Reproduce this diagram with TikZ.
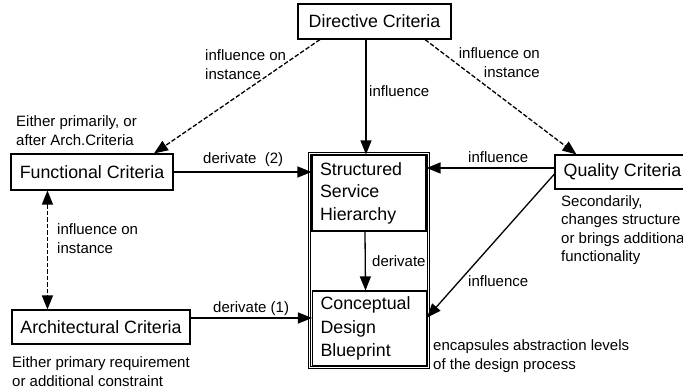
\documentclass[tikz,border=0pt]{standalone}
\usepackage{fontspec}
\setmainfont{Liberation Sans}
\usetikzlibrary{arrows.meta}
\begin{document}
\begin{tikzpicture}[x=1pt,y=-1pt,
  crit/.style={draw, line width=1.1pt, inner sep=0pt,
    font=\fontsize{17.8}{22.5}\selectfont},
  level/.style={draw, line width=1.1pt, inner xsep=8pt, inner ysep=0pt,
    align=left, minimum width=114pt},
  lab/.style={inner sep=0pt, align=left, font=\fontsize{15}{18.6}\selectfont},
  tip/.tip={Triangle[length=14pt,width=11pt]},
  conn/.style={line width=1.3pt, -tip},
  dashconn/.style={conn, dash pattern=on 4.5pt off 2pt},
]
\useasboundingbox (0,0) rectangle (683,390);

% criteria boxes
\node[crit, minimum width=153pt, minimum height=35pt] (dir) at (374.5,21.5) {Directive Criteria};
\node[crit, minimum width=162pt, minimum height=36pt] (fun) at (92,172) {Functional Criteria};
\node[crit, minimum width=178pt, minimum height=34pt] (arc) at (101,327) {Architectural Criteria};
\node[crit, minimum width=135pt, minimum height=34pt] (qua) at (622.5,172) {Quality Criteria};

% abstraction levels inside a double frame
\node[draw, double, line width=0.8pt, double distance=1.2pt, inner sep=0pt,
      minimum width=119pt, minimum height=214.5pt] (frame) at (369,260.5) {};
\node[level, text width=98pt, minimum height=76pt, font=\fontsize{17.8}{22.5}\selectfont]
  (ssh) at (369,193) {Structured\\Service\\Hierarchy};
\node[level, text width=98pt, minimum height=75pt, font=\fontsize{17.8}{23.5}\selectfont]
  (cdb) at (369.5,328.5) {Conceptual\\Design\\Blueprint};

% connectors
\draw[conn] ([xshift=-8.5pt]dir.south) -- ([xshift=-8.5pt]dir.south |- ssh.north);
\draw[dashconn] ([xshift=-54.5pt]dir.south) -- ([xshift=62pt]fun.north);
\draw[dashconn] ([xshift=50.5pt]dir.south) -- ([xshift=22pt]qua.north west);
\draw[conn] (fun.east) -- (fun.east -| ssh.west);
\draw[conn] ([yshift=4pt]qua.west) -- ([yshift=4pt]qua.west -| ssh.east);
\draw[conn] ([yshift=-2pt]qua.west) -- ([yshift=11pt]cdb.east);
\draw[conn] ([xshift=-4pt]ssh.south) -- ([xshift=-4pt]cdb.north);
\draw[conn] ([yshift=9pt]arc.east) -- ([yshift=9pt]arc.east -| cdb.west);
\draw[dashconn, tip-tip]
  ([xshift=37pt]fun.south west) -- ([xshift=37pt]fun.south west |- arc.north);

% connector labels
\node[lab, anchor=north west] (l1) at (205,49.5) {influence on\\instance};
\node[lab, anchor=north east, align=right] (l2) at (540,47.5) {influence on\\instance};
\node[lab, anchor=west] (l3) at (369,91) {influence};
\node[lab, anchor=west] (l4) at (203,160) {derivate\ \ (2)};
\node[lab, anchor=west] (l5) at (468,157) {influence};
\node[lab, anchor=west] (l6) at (372,261) {derivate};
\node[lab, anchor=west] (l7) at (468,281) {influence};
\node[lab, anchor=north west] (l8) at (57,223.5) {influence on\\instance};
\node[lab, anchor=west] (l9) at (213,309) {derivate (1)};

% annotations
\node[lab, anchor=north west] (n1) at (16,115.5) {Either primarily, or\\after Arch.Criteria};
\node[lab, anchor=north west] (n2) at (12,356.5) {Either primary requirement\\or additional constraint};
\node[lab, anchor=north west] (n3) at (561,195) {Secondarily,\\changes structure\\or brings additional\\functionality};
\node[lab, anchor=north west] (n4) at (433,339.5) {encapsules abstraction levels\\of the design process};
\end{tikzpicture}
\end{document}
